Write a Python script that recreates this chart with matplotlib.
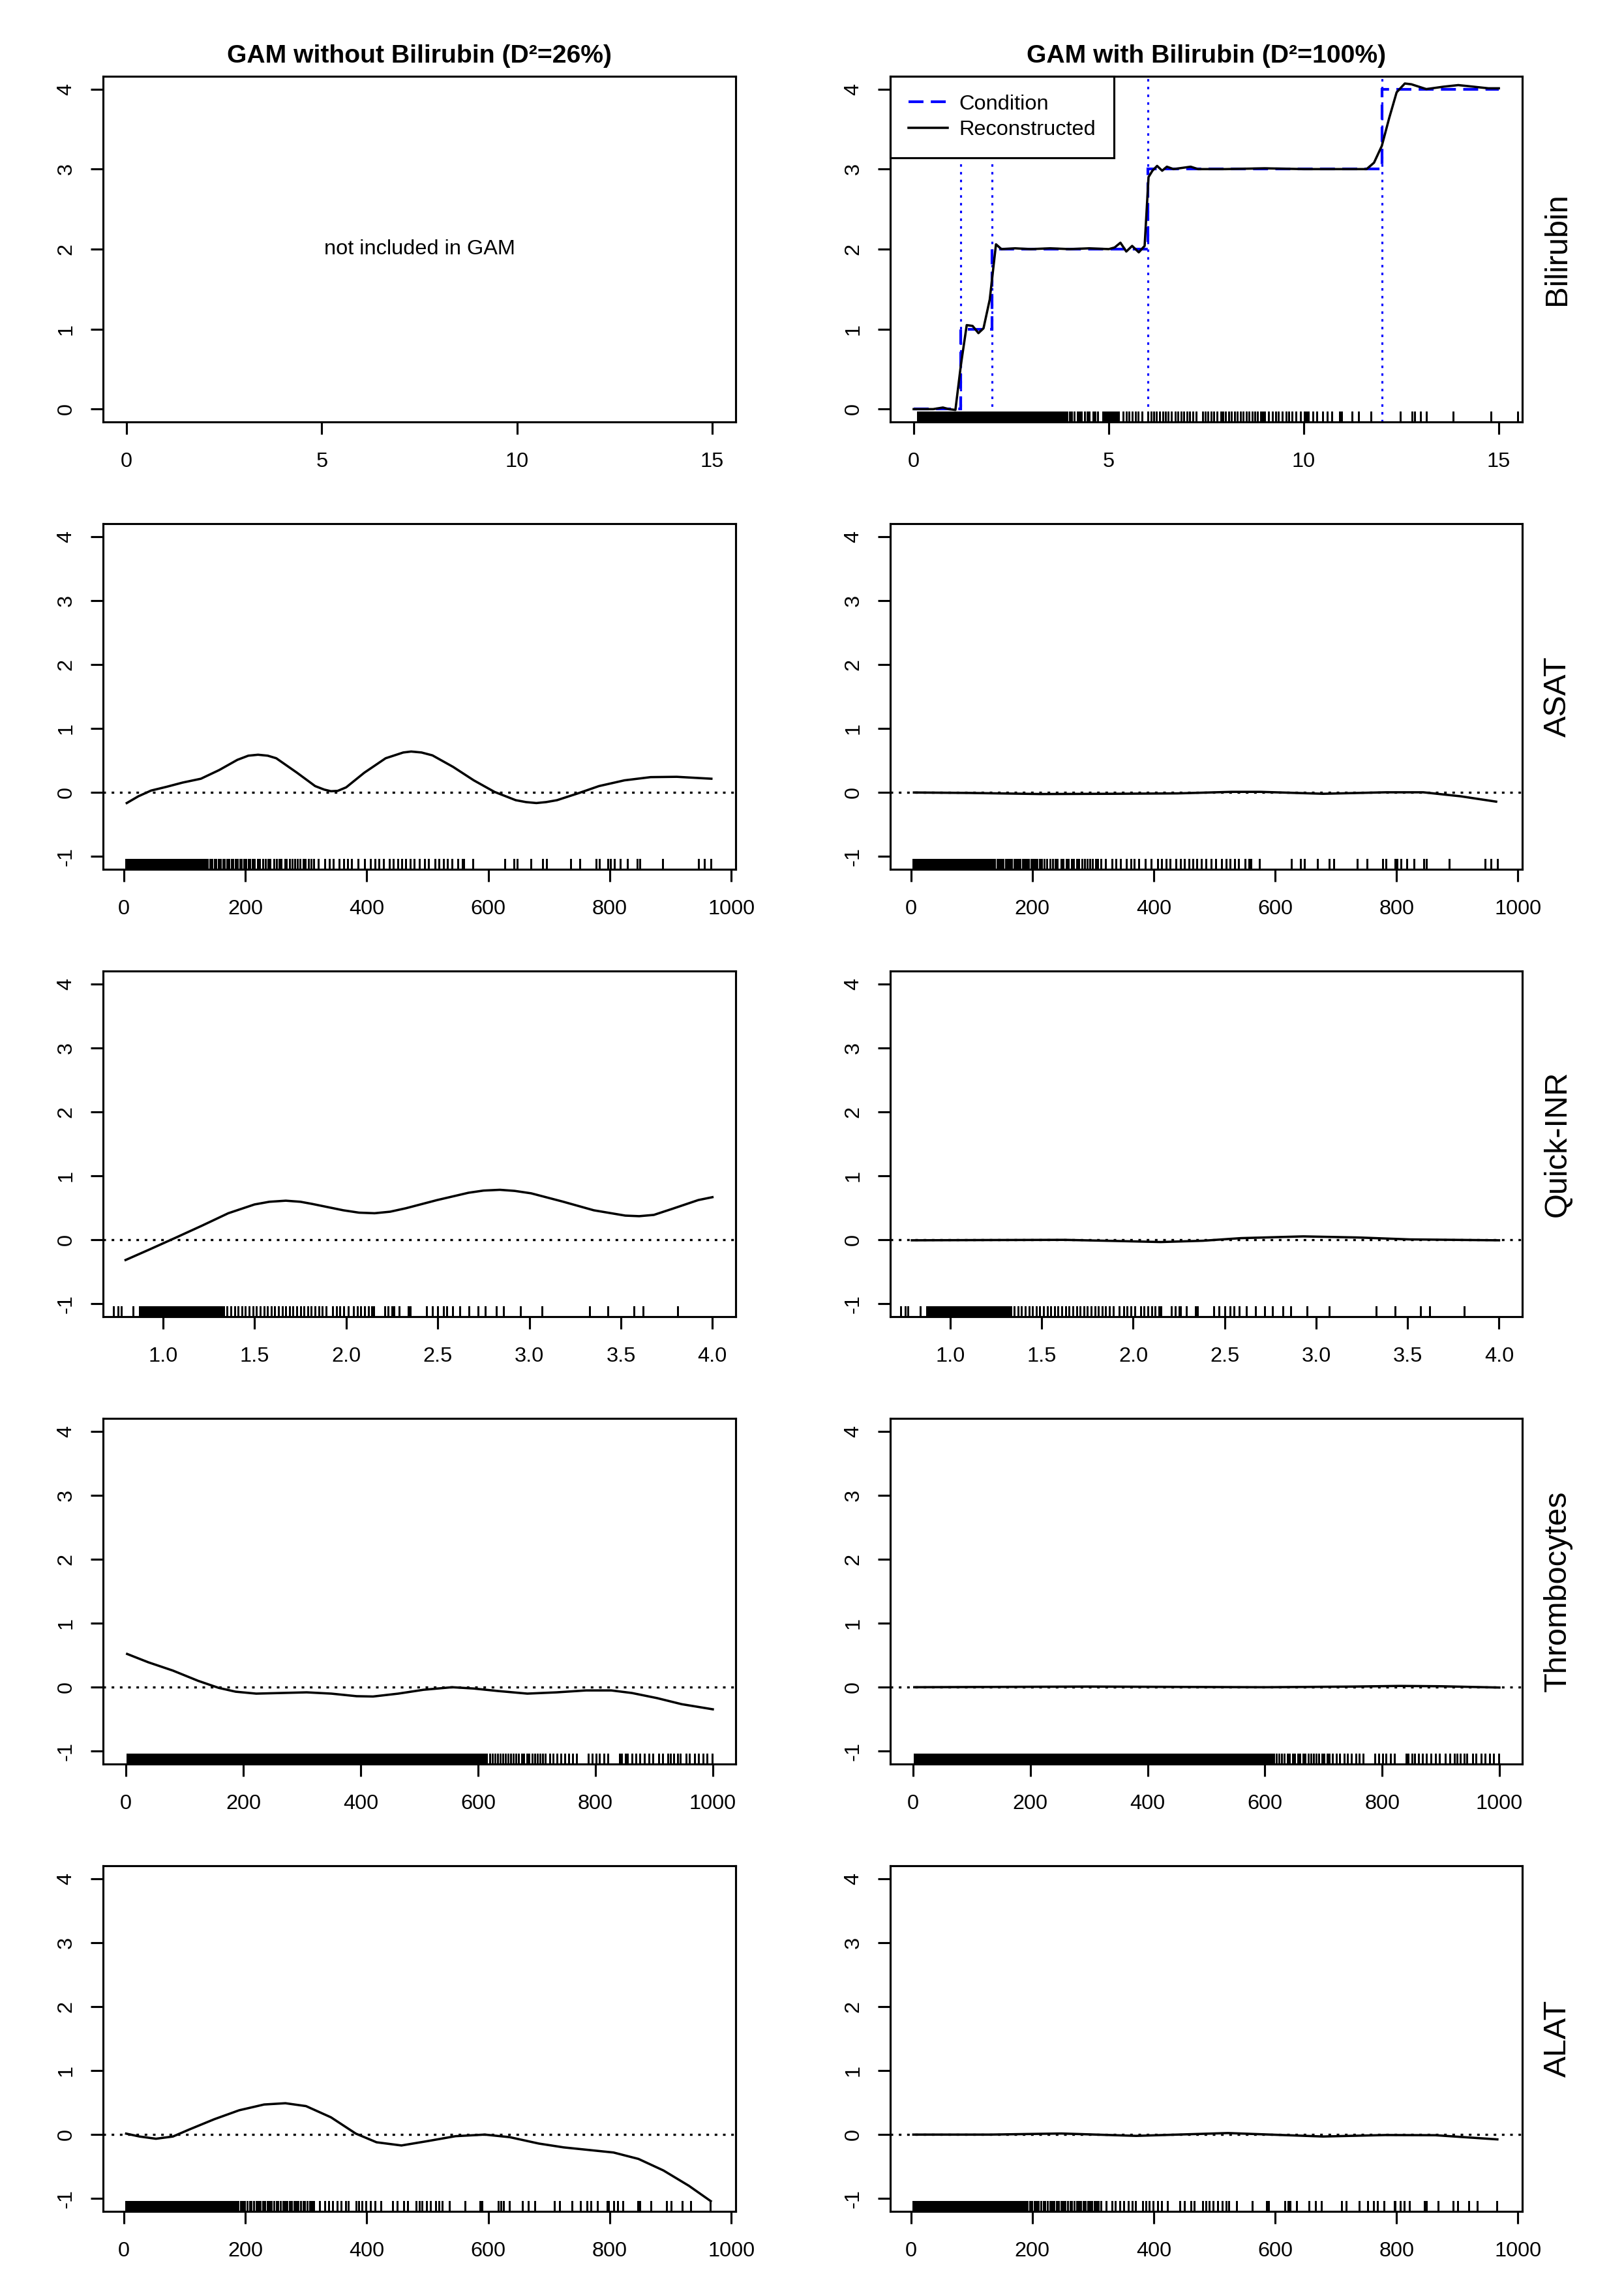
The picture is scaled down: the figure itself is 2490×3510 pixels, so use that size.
import matplotlib
matplotlib.use("Agg")
import matplotlib.pyplot as plt
from matplotlib.lines import Line2D
from matplotlib.ticker import FormatStrFormatter

plt.rcParams["font.family"] = ["Liberation Sans", "DejaVu Sans"]
plt.rcParams["axes.unicode_minus"] = False

W, H, DPI = 2490, 3510, 300

# ---------------- data ----------------
titles = ["GAM without Bilirubin (D\u00b2=26%)", "GAM with Bilirubin (D\u00b2=100%)"]
row_labels = ["Bilirubin", "ASAT", "Quick-INR", "Thrombocytes", "ALAT"]

# Bilirubin condition (step function) and cut points
cond_edges = [0, 1.2, 2, 6, 12, 15]
cond_levels = [0, 1, 2, 3, 4]
cut_points = [1.2, 2, 6, 12]

bili_x = [0, 0.5, 0.75, 0.9, 1.07, 1.21, 1.36, 1.51, 1.66, 1.79, 1.95, 2.11, 2.25, 2.6,
          3.0, 3.5, 4.0, 4.5, 5.0, 5.15, 5.30, 5.45, 5.60, 5.77, 5.92, 6.02, 6.12, 6.24,
          6.37, 6.49, 6.66, 7.1, 7.29, 8.0, 9.0, 10.0, 11.0, 11.61, 11.8, 12.0, 12.19,
          12.38, 12.59, 12.76, 13.14, 13.58, 13.96, 14.35, 14.73, 15.0]
bili_rec = [0, 0, 0.02, 0, -0.01, 0.55, 1.05, 1.04, 0.95, 1.01, 1.37, 2.06, 2.0, 2.01,
            2.0, 2.01, 2.0, 2.01, 2.0, 2.02, 2.08, 1.97, 2.04, 1.96, 2.04, 2.90, 2.98, 3.04,
            2.98, 3.03, 3.0, 3.03, 3.0, 3.0, 3.01, 3.0, 3.0, 3.0, 3.08, 3.29, 3.64,
            3.96, 4.07, 4.06, 4.0, 4.03, 4.05, 4.03, 4.01, 4.01]

# left column: GAM without bilirubin
asat_x = [5, 24, 45, 71, 97, 127, 157, 187, 205, 221, 237, 251, 285, 315, 330, 341, 352,
          366, 396, 431, 460, 473, 490, 508, 542, 576, 610, 645, 662, 679, 695, 713, 747,
          782, 824, 867, 910, 967]
asat_left = [-0.165, -0.06, 0.03, 0.09, 0.155, 0.215, 0.35, 0.51, 0.575, 0.59, 0.575, 0.535,
             0.31, 0.10, 0.045, 0.02, 0.025, 0.08, 0.31, 0.535, 0.625, 0.64, 0.625, 0.58,
             0.40, 0.19, 0.01, -0.12, -0.15, -0.165, -0.15, -0.12, -0.015, 0.10, 0.19,
             0.24, 0.245, 0.215]

inr_x = [0.795, 0.929, 1.071, 1.214, 1.356, 1.499, 1.58, 1.670, 1.75, 1.813, 1.984, 2.07,
         2.155, 2.24, 2.326, 2.497, 2.668, 2.75, 2.839, 2.92, 3.010, 3.181, 3.352, 3.524,
         3.60, 3.68, 3.780, 3.923, 4.0]
inr_left = [-0.315, -0.146, 0.037, 0.224, 0.416, 0.553, 0.595, 0.612, 0.595, 0.562, 0.462,
            0.425, 0.416, 0.44, 0.494, 0.622, 0.736, 0.77, 0.782, 0.765, 0.727, 0.599, 0.462,
            0.379, 0.37, 0.39, 0.484, 0.622, 0.667]

thromb_x = [2, 38, 80, 123, 158, 187, 222, 265, 308, 350, 393, 421, 464, 507, 556, 592,
            635, 684, 734, 784, 827, 862, 905, 947, 1000]
thromb_left = [0.52, 0.39, 0.26, 0.10, -0.01, -0.07, -0.10, -0.09, -0.08, -0.10, -0.14,
               -0.145, -0.10, -0.04, 0.0, -0.02, -0.06, -0.10, -0.08, -0.05, -0.05, -0.09,
               -0.17, -0.265, -0.345]

alat_x = [4, 26, 53, 81, 108, 149, 190, 231, 266, 300, 341, 382, 416, 457, 498, 546, 594,
          635, 683, 724, 765, 806, 847, 888, 930, 966]
alat_left = [0.015, -0.03, -0.065, -0.03, 0.08, 0.24, 0.38, 0.47, 0.49, 0.445, 0.27, 0.015,
             -0.12, -0.17, -0.105, -0.025, 0.0, -0.04, -0.14, -0.2, -0.24, -0.28, -0.38,
             -0.56, -0.80, -1.04]

# right column: GAM with bilirubin
asat_rx = [5, 96, 213, 336, 439, 528, 576, 679, 782, 844, 906, 964]
asat_right = [0.0, -0.007, -0.024, -0.02, -0.014, 0.01, 0.01, -0.02, 0.003, 0.003, -0.06, -0.143]

inr_rx = [0.79, 1.2, 1.624, 1.90, 2.15, 2.38, 2.59, 2.93, 3.23, 3.51, 4.0]
inr_right = [-0.007, -0.003, 0.0, -0.017, -0.034, -0.014, 0.027, 0.054, 0.037, 0.007, -0.007]

thromb_rx = [2, 150, 300, 450, 600, 750, 830, 900, 1000]
thromb_right = [0.0, 0.005, 0.01, 0.005, 0.0, 0.01, 0.02, 0.015, -0.005]

alat_rx = [4, 131, 248, 371, 522, 679, 782, 864, 966]
alat_right = [0.0, 0.0, 0.017, -0.02, 0.024, -0.03, -0.007, -0.01, -0.075]

# rug positions (observations)
bili_rug = [0.10, 0.14, 0.18, 0.22, 0.27, 0.31, 0.35, 0.39, 0.43, 0.47, 0.52, 0.56, 0.60,
            0.64, 0.68, 0.72, 0.77, 0.81, 0.85, 0.89, 0.93, 0.97, 1.02, 1.06, 1.10, 1.14,
            1.18, 1.22, 1.27, 1.31, 1.35, 1.39, 1.43, 1.47, 1.52, 1.56, 1.60, 1.64, 1.68,
            1.72, 1.77, 1.81, 1.85, 1.89, 1.93, 1.98, 2.03, 2.08, 2.13, 2.18, 2.23, 2.28,
            2.33, 2.38, 2.43, 2.48, 2.53, 2.58, 2.63, 2.68, 2.73, 2.78, 2.83, 2.88, 2.93,
            2.98, 3.03, 3.08, 3.13, 3.18, 3.23, 3.28, 3.33, 3.38, 3.43, 3.48, 3.53, 3.58,
            3.63, 3.68, 3.73, 3.78, 3.83, 3.88, 3.93, 4.0, 4.05, 4.12, 4.2, 4.25, 4.3,
            4.38, 4.45, 4.5, 4.6, 4.65, 4.72, 4.85, 4.9, 4.95, 5.0, 5.05, 5.1, 5.15, 5.2,
            5.25, 5.37, 5.45, 5.52, 5.6, 5.68, 5.75, 5.85, 6.01, 6.08, 6.15, 6.22, 6.3,
            6.38, 6.45, 6.52, 6.6, 6.7, 6.78, 6.85, 6.93, 7.0, 7.08, 7.15, 7.24, 7.4, 7.47,
            7.55, 7.62, 7.7, 7.78, 7.88, 7.93, 8.0, 8.08, 8.15, 8.22, 8.3, 8.38, 8.45, 8.52,
            8.6, 8.68, 8.75, 8.82, 8.9, 8.95, 9.0, 9.1, 9.2, 9.28, 9.35, 9.45, 9.55, 9.62,
            9.7, 9.8, 9.91, 10.01, 10.06, 10.12, 10.23, 10.33, 10.49, 10.6, 10.71, 10.92,
            10.97, 11.24, 11.4, 11.72, 12.47, 12.77, 12.84, 13.0, 13.14, 13.83, 14.8, 15.48]

asat_rug = [4, 7, 9, 12, 15, 17, 20, 23, 26, 28, 31, 34, 36, 39, 42, 44, 47, 50, 52, 55,
            58, 61, 63, 66, 69, 71, 74, 77, 79, 82, 85, 88, 90, 93, 96, 98, 101, 104, 106,
            109, 112, 115, 117, 120, 123, 125, 128, 131, 135, 138, 142, 145, 149, 152, 156,
            159, 163, 166, 170, 173, 177, 180, 184, 187, 191, 194, 198, 201, 205, 208, 212,
            215, 220, 224, 229, 233, 238, 241, 247, 251, 256, 259, 265, 268, 273, 277, 282,
            286, 290, 295, 299, 304, 308, 313, 320, 331, 338, 345, 355, 362, 368, 375, 386,
            396, 406, 413, 420, 427, 437, 444, 451, 458, 464, 471, 478, 486, 495, 502, 512,
            519, 526, 533, 540, 550, 557, 560, 574, 627, 642, 648, 670, 689, 696, 735, 751,
            777, 783, 797, 801, 807, 817, 829, 845, 849, 887, 946, 955, 966]

inr_rug = [0.73, 0.755, 0.77, 0.835, 0.87, 0.88, 0.89, 0.90, 0.91, 0.92, 0.93, 0.94, 0.95,
           0.96, 0.97, 0.98, 0.99, 1.00, 1.01, 1.02, 1.03, 1.04, 1.05, 1.06, 1.07, 1.08,
           1.09, 1.10, 1.11, 1.12, 1.13, 1.14, 1.15, 1.16, 1.17, 1.18, 1.19, 1.20, 1.21,
           1.22, 1.23, 1.24, 1.25, 1.26, 1.27, 1.28, 1.29, 1.30, 1.31, 1.32, 1.33, 1.35,
           1.37, 1.39, 1.41, 1.43, 1.45, 1.47, 1.49, 1.51, 1.53, 1.55, 1.57, 1.59, 1.61,
           1.63, 1.65, 1.67, 1.69, 1.71, 1.73, 1.75, 1.77, 1.79, 1.81, 1.83, 1.85, 1.87,
           1.89, 1.924, 1.947, 1.965, 1.988, 2.01, 2.04, 2.06, 2.08, 2.10, 2.12, 2.14,
           2.15, 2.21, 2.23, 2.25, 2.26, 2.29, 2.34, 2.35, 2.44, 2.47, 2.50, 2.53, 2.55,
           2.58, 2.62, 2.67, 2.72, 2.76, 2.82, 2.86, 2.95, 3.07, 3.33, 3.43, 3.57, 3.62,
           3.81]

thromb_rug = [2, 5, 8, 11, 13, 16, 19, 22, 25, 27, 30, 33, 36, 39, 41, 44, 47, 50, 53, 55,
              58, 61, 64, 67, 69, 72, 75, 78, 81, 83, 86, 89, 92, 95, 97, 100, 103, 106,
              109, 111, 114, 117, 120, 123, 125, 128, 131, 134, 137, 139, 142, 145, 148,
              151, 153, 156, 159, 162, 165, 167, 170, 173, 176, 179, 181, 184, 187, 190,
              193, 195, 198, 201, 204, 207, 209, 212, 215, 218, 221, 223, 226, 229, 232,
              235, 237, 240, 243, 246, 249, 251, 254, 257, 260, 263, 265, 268, 271, 274,
              277, 279, 282, 285, 288, 291, 293, 296, 299, 302, 305, 307, 310, 313, 316,
              319, 321, 324, 327, 330, 333, 335, 338, 341, 344, 347, 349, 352, 355, 358,
              361, 363, 366, 369, 372, 375, 377, 380, 383, 386, 389, 391, 394, 397, 400,
              403, 405, 408, 411, 414, 417, 419, 422, 425, 428, 431, 433, 436, 439, 442,
              445, 447, 450, 453, 456, 459, 461, 464, 467, 470, 473, 475, 478, 481, 484,
              487, 489, 492, 495, 498, 501, 503, 506, 509, 512, 515, 517, 520, 523, 526,
              529, 531, 534, 537, 540, 543, 545, 548, 551, 554, 557, 559, 562, 565, 568,
              571, 573, 576, 579, 582, 585, 587, 590, 593, 596, 599, 601, 604, 607, 610,
              613, 615, 620, 624, 629, 633, 638, 642, 647, 651, 656, 660, 665, 669, 674,
              678, 683, 687, 692, 697, 701, 706, 710, 715, 722, 728, 735, 741, 748, 755,
              761, 768, 788, 794, 801, 807, 814, 821, 841, 844, 851, 855, 862, 869, 876,
              883, 891, 898, 908, 915, 923, 928, 933, 940, 944, 955, 960, 969, 976, 983,
              990, 999]

alat_rug = [4, 7, 9, 12, 15, 17, 20, 23, 25, 28, 31, 34, 36, 39, 42, 44, 47, 50, 53, 55,
            58, 61, 63, 66, 69, 72, 74, 77, 80, 82, 85, 88, 91, 93, 96, 99, 101, 104, 107,
            110, 112, 115, 118, 120, 123, 126, 129, 131, 134, 137, 139, 142, 145, 148, 150,
            153, 156, 158, 161, 164, 167, 169, 172, 175, 177, 180, 183, 186, 188, 192, 196,
            199, 203, 207, 210, 214, 218, 221, 225, 229, 232, 236, 240, 243, 247, 251, 254,
            258, 262, 265, 269, 273, 276, 280, 284, 287, 291, 295, 298, 302, 306, 309, 313,
            322, 331, 337, 344, 351, 358, 365, 370, 382, 387, 392, 399, 406, 413, 423, 443,
            450, 461, 467, 481, 486, 491, 498, 505, 513, 519, 524, 536, 562, 586, 589, 616,
            621, 625, 635, 656, 666, 676, 709, 717, 738, 752, 762, 769, 779, 796, 798, 806,
            813, 821, 846, 849, 868, 893, 901, 919, 933, 965]

# x axis settings per row
xlims = [(-0.6, 15.6), (-34, 1007), (0.672, 4.127), (-39, 1039), (-34, 1007)]
xticks = [[0, 5, 10, 15], [0, 200, 400, 600, 800, 1000], [1.0, 1.5, 2.0, 2.5, 3.0, 3.5, 4.0],
          [0, 200, 400, 600, 800, 1000], [0, 200, 400, 600, 800, 1000]]

curves_left = [None, (asat_x, asat_left), (inr_x, inr_left), (thromb_x, thromb_left),
               (alat_x, alat_left)]
curves_right = [(bili_x, bili_rec), (asat_rx, asat_right), (inr_rx, inr_right),
                (thromb_rx, thromb_right), (alat_rx, alat_right)]
rugs = [bili_rug, asat_rug, inr_rug, thromb_rug, alat_rug]

# ---------------- layout (pixels of the 2490x3510 canvas) ----------------
col_x = [(158, 970), (1365, 969)]
row_bottom = [647, 1333, 2019, 2705, 3391]
AX_H = 530

LW = 0.85
DOT = (0, (1.2, 2.6))
FS = 7.8

fig = plt.figure(figsize=(W / DPI, H / DPI), dpi=DPI)


def make_ax(row, col):
    x0, w = col_x[col]
    b = row_bottom[row]
    ax = fig.add_axes([x0 / W, 1 - b / H, w / W, AX_H / H])
    for sp in ax.spines.values():
        sp.set_linewidth(0.75)
    ax.tick_params(direction="out", length=4.5, width=0.75, labelsize=FS)
    ax.tick_params(axis="x", pad=6.5)
    ax.tick_params(axis="y", pad=5.5, labelrotation=90)
    ax.set_xlim(*xlims[row])
    ax.set_xticks(xticks[row])
    if row == 2:
        ax.xaxis.set_major_formatter(FormatStrFormatter("%.1f"))
    if row == 0:
        ax.set_ylim(-0.16, 4.16)
        ax.set_yticks([0, 1, 2, 3, 4])
    else:
        ax.set_ylim(-1.2, 4.2)
        ax.set_yticks([-1, 0, 1, 2, 3, 4])
    for t in ax.get_yticklabels():
        t.set_verticalalignment("center")
    return ax


def draw_rug(ax, values):
    ax.vlines(values, 0, 0.03, transform=ax.get_xaxis_transform(),
              colors="black", linewidth=0.6, antialiased=False)


for row in range(5):
    for col in range(2):
        ax = make_ax(row, col)
        if row == 0 and col == 0:
            ax.text(7.5, 2, "not included in GAM", ha="center", va="center", fontsize=FS)
            continue
        if row == 0:
            ax.stairs(cond_levels, cond_edges, baseline=None, color="blue",
                      linewidth=1.0, linestyle=(0, (5.5, 2.7)))
            for c in cut_points:
                ax.axvline(c, color="blue", linewidth=0.75, linestyle=DOT)
            bx, by = curves_right[0]
            ax.plot(bx, by, color="black", linewidth=LW)
            draw_rug(ax, rugs[0])
            handles = [Line2D([], [], color="blue", linewidth=1.0, linestyle=(0, (5.5, 2.7))),
                       Line2D([], [], color="black", linewidth=LW)]
            leg = ax.legend(handles, ["Condition", "Reconstructed"], loc="upper left",
                            borderaxespad=0, fancybox=False, edgecolor="black",
                            framealpha=1, fontsize=FS, handlelength=1.85,
                            handletextpad=0.55, borderpad=0.85, labelspacing=0.3)
            leg.get_frame().set_linewidth(0.75)
            continue
        cx, cy = (curves_left if col == 0 else curves_right)[row]
        ax.plot(cx, cy, color="black", linewidth=LW)
        ax.axhline(0, color="black", linewidth=0.8, linestyle=DOT)
        draw_rug(ax, rugs[row])

# column titles
for col in range(2):
    x0, w = col_x[col]
    fig.text((x0 + w / 2) / W, 1 - 96 / H, titles[col], ha="center", va="baseline",
             fontsize=9.4, fontweight="bold")

# row labels on the right
for row in range(5):
    yc = row_bottom[row] - AX_H / 2
    fig.text(2388 / W, 1 - yc / H, row_labels[row], rotation=90, ha="center",
             va="center", fontsize=11.7)

fig.savefig("out.png", dpi=DPI)
plt.close(fig)
